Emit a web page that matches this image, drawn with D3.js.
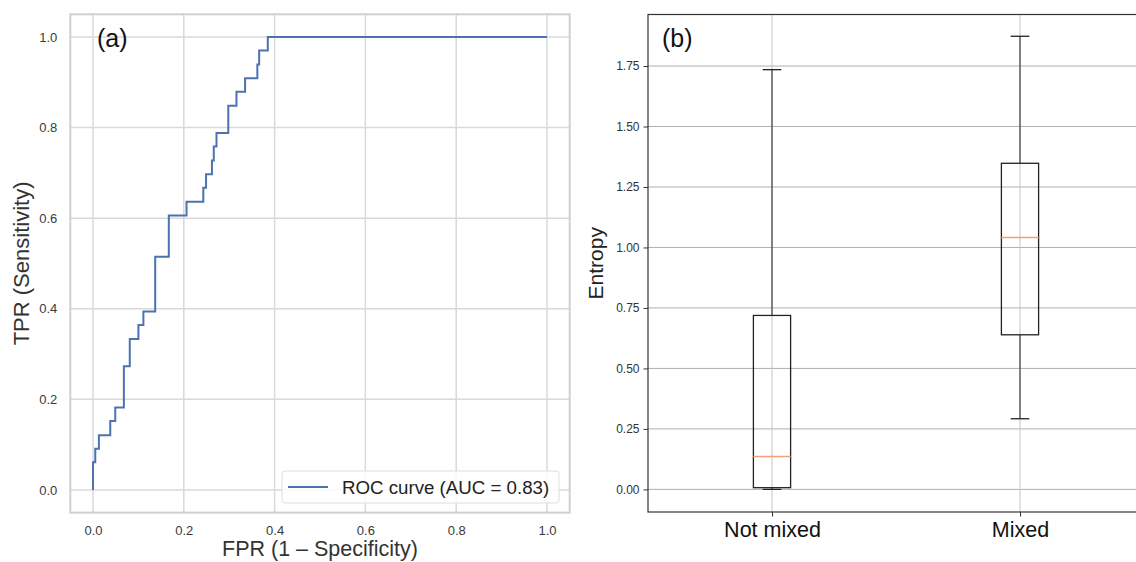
<!DOCTYPE html>
<html>
<head>
<meta charset="utf-8">
<script src="https://cdn.jsdelivr.net/npm/d3@7"></script>
<style>
  body { margin: 0; background: #fff; }
  svg { display: block; font-family: "Liberation Sans", Arial, sans-serif; }
</style>
</head>
<body>
<svg id="chart" width="1136" height="562"></svg>
<script>
// ROC curve corners (vertical step first, then horizontal)
const fpr = [0, 0.005, 0.013, 0.038, 0.049, 0.068, 0.081, 0.100, 0.111, 0.137, 0.167, 0.206,
  0.243, 0.249, 0.262, 0.266, 0.272, 0.298, 0.316, 0.335, 0.362, 0.366, 0.385, 1.0]
const tpr = [0, 0.061, 0.091, 0.121, 0.152, 0.182, 0.273, 0.333, 0.364, 0.394, 0.515, 0.606,
  0.636, 0.667, 0.697, 0.727, 0.758, 0.788, 0.848, 0.879, 0.909, 0.939, 0.970, 1.0]
const rocTicks = [0, 0.2, 0.4, 0.6, 0.8, 1.0]
const rocLabel = "ROC curve (AUC = 0.83)"

// entropy box plot stats
const groups = ["Not mixed", "Mixed"]
const whiskerLow = [0.0, 0.292]
const q1 = [0.007, 0.639]
const median = [0.136, 1.041]
const q3 = [0.719, 1.348]
const whiskerHigh = [1.735, 1.873]
const entropyTicks = [0, 0.25, 0.5, 0.75, 1.0, 1.25, 1.5, 1.75]

const svg = d3.select("#chart")

// ---------- panel (a) ----------
const xa = d3.scaleLinear().domain([-0.05, 1.05]).range([70.3, 569.7])
const ya = d3.scaleLinear().domain([-0.05, 1.05]).range([512.6, 14.3])
const pa = svg.append("g")

pa.append("g").selectAll("line.gx").data(rocTicks).join("line")
  .attr("x1", d => xa(d)).attr("x2", d => xa(d))
  .attr("y1", ya.range()[0]).attr("y2", ya.range()[1])
  .attr("stroke", "#d9d9d9").attr("stroke-width", 1.5)
pa.append("g").selectAll("line.gy").data(rocTicks).join("line")
  .attr("y1", d => ya(d)).attr("y2", d => ya(d))
  .attr("x1", xa.range()[0]).attr("x2", xa.range()[1])
  .attr("stroke", "#d9d9d9").attr("stroke-width", 1.5)

pa.append("rect")
  .attr("x", xa.range()[0]).attr("y", ya.range()[1])
  .attr("width", xa.range()[1] - xa.range()[0])
  .attr("height", ya.range()[0] - ya.range()[1])
  .attr("fill", "none").attr("stroke", "#d0d0d0").attr("stroke-width", 2)

const xAxisA = pa.append("g").attr("transform", `translate(0,${ya.range()[0]})`)
  .call(d3.axisBottom(xa).tickValues(rocTicks).tickFormat(d3.format(".1f")).tickSize(0).tickPadding(13))
const yAxisA = pa.append("g").attr("transform", `translate(${xa.range()[0]},0)`)
  .call(d3.axisLeft(ya).tickValues(rocTicks).tickFormat(d3.format(".1f")).tickSize(0).tickPadding(13))
;[xAxisA, yAxisA].forEach(a => {
  a.select(".domain").remove()
  a.selectAll("text").attr("font-size", 13).attr("fill", "#3a3a3a")
    .attr("font-family", "'Liberation Sans', Arial, sans-serif")
})

const rocLine = d3.line()
  .x(d => xa(d[0])).y(d => ya(d[1]))
  .curve(d3.curveStepBefore)
pa.append("path")
  .datum(d3.zip(fpr, tpr))
  .attr("d", rocLine)
  .attr("fill", "none").attr("stroke", "#4c72b0").attr("stroke-width", 2)

// legend
const lg = pa.append("g")
lg.append("rect").attr("x", 282).attr("y", 471).attr("width", 277).attr("height", 32)
  .attr("rx", 3).attr("fill", "rgba(255,255,255,0.85)").attr("stroke", "#dedede")
lg.append("line").attr("x1", 288).attr("x2", 328).attr("y1", 487).attr("y2", 487)
  .attr("stroke", "#4c72b0").attr("stroke-width", 2)
lg.append("text").attr("x", 342).attr("y", 493.5).attr("font-size", 18.7).attr("fill", "#222")
  .text(rocLabel)

pa.append("text").attr("x", 97).attr("y", 47).attr("font-size", 25).attr("fill", "#111").text("(a)")
pa.append("text").attr("x", (xa.range()[0] + xa.range()[1]) / 2).attr("y", 556)
  .attr("text-anchor", "middle").attr("font-size", 21.5).attr("fill", "#333")
  .text("FPR (1 – Specificity)")
pa.append("text")
  .attr("transform", `translate(29,${(ya.range()[0] + ya.range()[1]) / 2}) rotate(-90)`)
  .attr("text-anchor", "middle").attr("font-size", 22).attr("fill", "#333")
  .text("TPR (Sensitivity)")

// ---------- panel (b) ----------
const xb = d3.scaleLinear().domain([0.5, 2.5]).range([648, 1144])
const yb = d3.scaleLinear().domain([-0.0935, 1.963]).range([512, 14.5])
const pb = svg.append("g")
const boxW = 0.15, capW = 0.075

pb.append("g").selectAll("line").data(entropyTicks).join("line")
  .attr("y1", d => yb(d)).attr("y2", d => yb(d))
  .attr("x1", xb.range()[0]).attr("x2", xb.range()[1])
  .attr("stroke", "#b0b0b0").attr("stroke-width", 1)
pb.append("g").selectAll("line").data(groups).join("line")
  .attr("x1", (d, i) => xb(i + 1)).attr("x2", (d, i) => xb(i + 1))
  .attr("y1", yb.range()[0]).attr("y2", yb.range()[1])
  .attr("stroke", "#c4c4c4").attr("stroke-width", 1)

const yAxisB = pb.append("g").attr("transform", `translate(${xb.range()[0]},0)`)
  .call(d3.axisLeft(yb).tickValues(entropyTicks).tickFormat(d3.format(".2f")).tickSize(4.5).tickPadding(4))
yAxisB.selectAll("text").attr("font-size", 12).attr("fill", "#333")
  .attr("font-family", "'Liberation Sans', Arial, sans-serif")
const xAxisB = pb.append("g").attr("transform", `translate(0,${yb.range()[0]})`)
  .call(d3.axisBottom(xb).tickValues([1, 2]).tickFormat((d) => groups[d - 1]).tickSize(4.5).tickPadding(5))
xAxisB.selectAll("text").attr("font-size", 21.5).attr("fill", "#111")
  .attr("font-family", "'Liberation Sans', Arial, sans-serif")
;[yAxisB, xAxisB].forEach(a => {
  a.select(".domain").remove()
  a.selectAll(".tick line").attr("stroke", "#333")
})

const boxes = pb.append("g").selectAll("g").data(groups).join("g")
boxes.append("line")
  .attr("x1", (d, i) => xb(i + 1)).attr("x2", (d, i) => xb(i + 1))
  .attr("y1", (d, i) => yb(whiskerHigh[i])).attr("y2", (d, i) => yb(q3[i]))
  .attr("stroke", "#222")
boxes.append("line")
  .attr("x1", (d, i) => xb(i + 1)).attr("x2", (d, i) => xb(i + 1))
  .attr("y1", (d, i) => yb(q1[i])).attr("y2", (d, i) => yb(whiskerLow[i]))
  .attr("stroke", "#222")
boxes.append("line")
  .attr("x1", (d, i) => xb(i + 1 - capW / 2)).attr("x2", (d, i) => xb(i + 1 + capW / 2))
  .attr("y1", (d, i) => yb(whiskerHigh[i])).attr("y2", (d, i) => yb(whiskerHigh[i]))
  .attr("stroke", "#222").attr("stroke-width", 1.3)
boxes.append("line")
  .attr("x1", (d, i) => xb(i + 1 - capW / 2)).attr("x2", (d, i) => xb(i + 1 + capW / 2))
  .attr("y1", (d, i) => yb(whiskerLow[i])).attr("y2", (d, i) => yb(whiskerLow[i]))
  .attr("stroke", "#222").attr("stroke-width", 1.3)
boxes.append("rect")
  .attr("x", (d, i) => xb(i + 1 - boxW / 2))
  .attr("width", xb(1 + boxW / 2) - xb(1 - boxW / 2))
  .attr("y", (d, i) => yb(q3[i]))
  .attr("height", (d, i) => yb(q1[i]) - yb(q3[i]))
  .attr("fill", "none").attr("stroke", "#222").attr("stroke-width", 1.3)
boxes.append("line")
  .attr("x1", (d, i) => xb(i + 1 - boxW / 2)).attr("x2", (d, i) => xb(i + 1 + boxW / 2))
  .attr("y1", (d, i) => yb(median[i])).attr("y2", (d, i) => yb(median[i]))
  .attr("stroke", "#f0a07c").attr("stroke-width", 1.5)

pb.append("rect")
  .attr("x", xb.range()[0]).attr("y", yb.range()[1])
  .attr("width", xb.range()[1] - xb.range()[0])
  .attr("height", yb.range()[0] - yb.range()[1])
  .attr("fill", "none").attr("stroke", "#333").attr("stroke-width", 1.2)

pb.append("text").attr("x", 662).attr("y", 47).attr("font-size", 25).attr("fill", "#111").text("(b)")
pb.append("text")
  .attr("transform", `translate(603,${(yb.range()[0] + yb.range()[1]) / 2}) rotate(-90)`)
  .attr("text-anchor", "middle").attr("font-size", 21).attr("fill", "#222")
  .text("Entropy")
</script>
</body>
</html>
